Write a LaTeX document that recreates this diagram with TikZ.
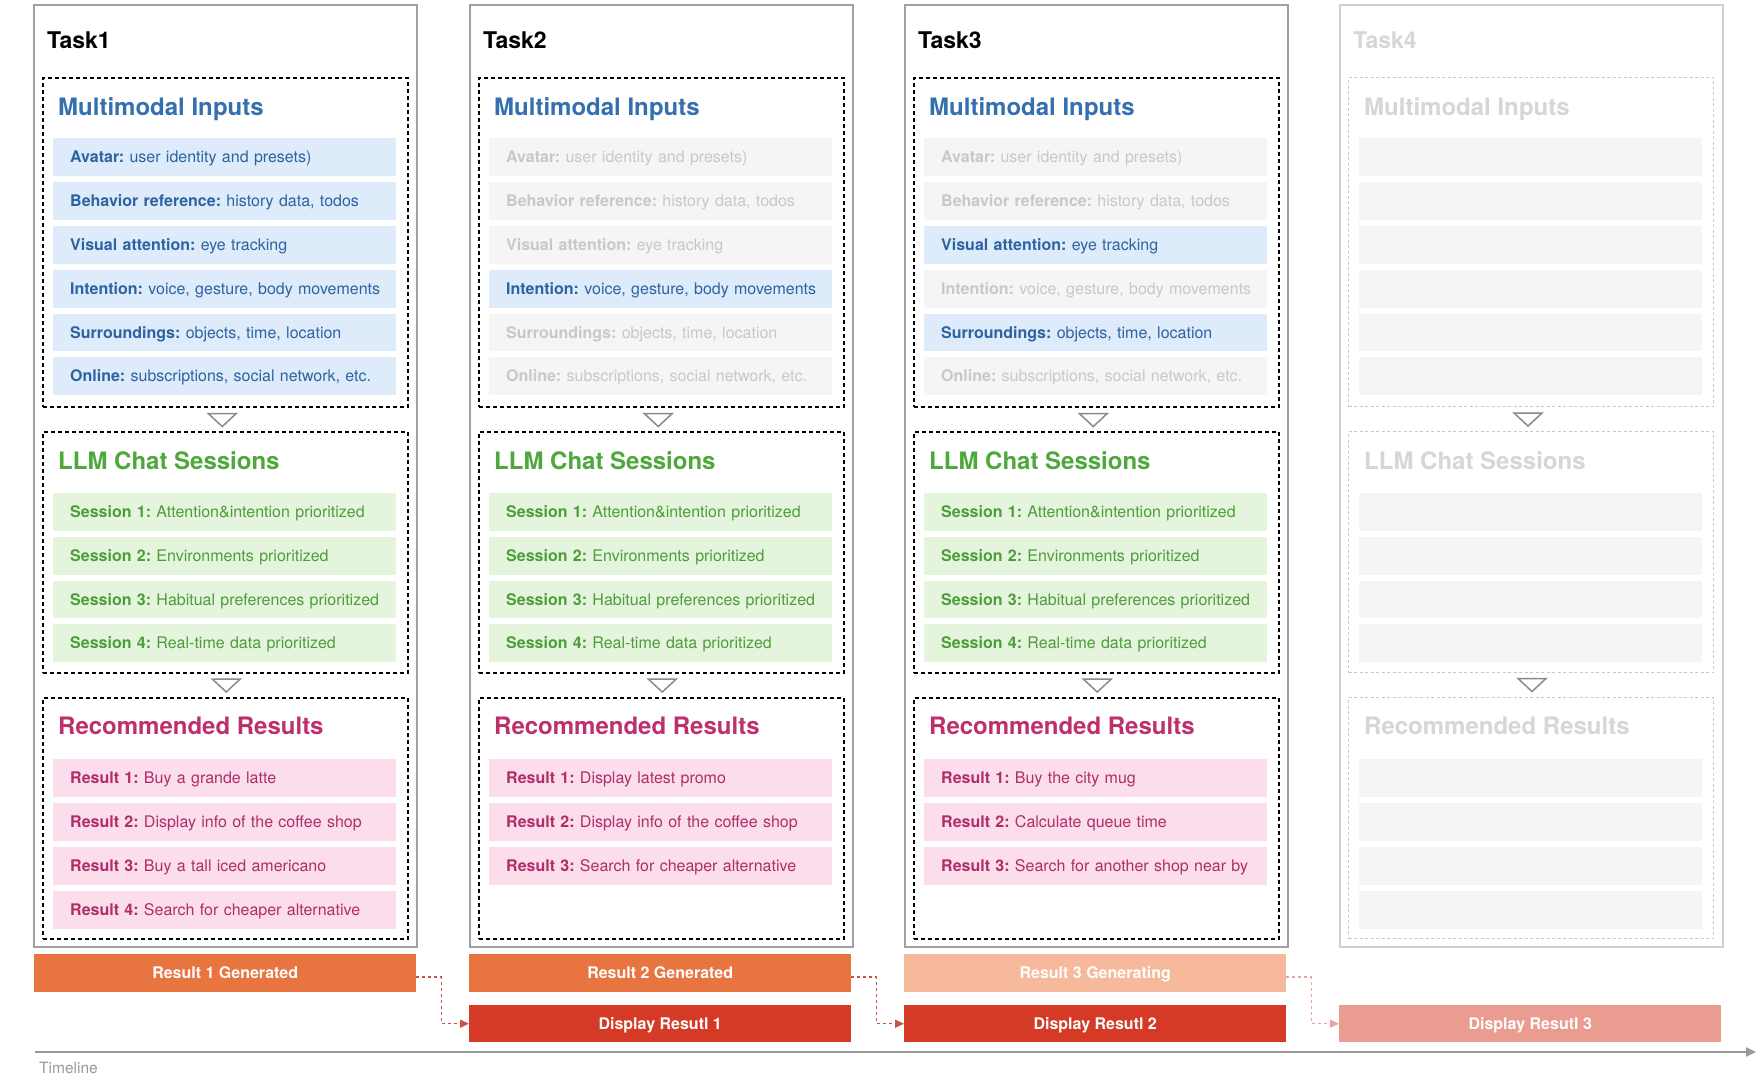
\documentclass[tikz,border=0pt]{standalone}
\usepackage{fontspec}
\setmainfont{TeX Gyre Heros}
\usetikzlibrary{arrows.meta}
\frenchspacing
\definecolor{bluetitle}{HTML}{3470B0}
\definecolor{bluetext}{HTML}{2D63A0}
\definecolor{bluefill}{HTML}{DDEBFA}
\definecolor{greentitle}{HTML}{4EA83B}
\definecolor{greentext}{HTML}{4C9E38}
\definecolor{greenfill}{HTML}{E5F4DD}
\definecolor{pinktitle}{HTML}{BE2F6E}
\definecolor{pinktext}{HTML}{B02D69}
\definecolor{pinkfill}{HTML}{FBDDEB}
\definecolor{offfill}{HTML}{F5F5F5}
\definecolor{offtext}{HTML}{C8C8C8}
\definecolor{offtitle}{HTML}{D6D6D6}
\definecolor{outergray}{HTML}{A0A0A0}
\definecolor{outerlight}{HTML}{D0D0D0}
\definecolor{dashlight}{HTML}{C8C8C8}
\definecolor{trigray}{HTML}{8A8A8A}
\definecolor{genorange}{HTML}{E8743F}
\definecolor{genlight}{HTML}{F6B99C}
\definecolor{dispred}{HTML}{D53A26}
\definecolor{displight}{HTML}{EA9C90}
\definecolor{connred}{HTML}{C9534A}
\definecolor{connlight}{HTML}{E8A49C}
\definecolor{timegray}{HTML}{9A9A9A}
\tikzset{
  outerA/.style={draw=outergray, line width=2pt},
  outerB/.style={draw=outerlight, line width=1.5pt},
  dashA/.style={draw=black, line width=1.5pt, dash pattern=on 4pt off 3pt},
  dashB/.style={draw=dashlight, line width=1pt, dash pattern=on 3pt off 2.5pt},
  tasklblA/.style={anchor=base west, inner sep=0pt, font=\fontsize{23}{27}\selectfont\bfseries, text=black},
  tasklblB/.style={anchor=base west, inner sep=0pt, font=\fontsize{23}{27}\selectfont\bfseries, text=offtitle},
  secttitle/.style={anchor=base west, inner sep=0pt, font=\fontsize{24}{28}\selectfont\bfseries},
  mitA/.style={secttitle, text=bluetitle},
  llmtA/.style={secttitle, text=greentitle},
  rrtA/.style={secttitle, text=pinktitle},
  mitB/.style={secttitle, text=offtitle},
  llmtB/.style={secttitle, text=offtitle},
  rrtB/.style={secttitle, text=offtitle},
  rowbase/.style={anchor=north west, minimum width=343pt, minimum height=37.5pt,
    inner xsep=0pt, inner ysep=0pt, text width=343pt, align=left,
    text height=11.5pt, text depth=0pt, font=\fontsize{16}{19}\selectfont},
  mirow/.style={rowbase, fill=bluefill, text=bluetext},
  llmrow/.style={rowbase, fill=greenfill, text=greentext},
  rrrow/.style={rowbase, fill=pinkfill, text=pinktext},
  offrow/.style={rowbase, fill=offfill, text=offtext},
  tri/.style={draw=trigray, line width=1.5pt, fill=white, line join=miter},
  barbase/.style={anchor=north west, minimum width=382pt, inner sep=0pt, text=white,
    font=\fontsize{16}{19}\selectfont\bfseries, text height=11.5pt, text depth=0pt},
  genbar/.style={barbase, fill=genorange, minimum height=38pt},
  genbarlight/.style={barbase, fill=genlight, minimum height=38pt},
  dispbar/.style={barbase, fill=dispred, minimum height=37pt},
  dispbarlight/.style={barbase, fill=displight, minimum height=37pt},
  conn/.style={draw=connred, line width=1.5pt, dash pattern=on 3pt off 3pt, -{Triangle[length=9pt,width=8pt]}},
  connl/.style={draw=connlight, line width=1.5pt, dash pattern=on 3pt off 3pt, -{Triangle[length=9pt,width=8pt]}},
  timeline/.style={draw=timegray, line width=2pt, -{Triangle[length=10pt,width=9pt]}},
}
\newcommand{\colframe}[3]{%
  \node[outer#3, anchor=north west, minimum width=383pt, minimum height=942pt, inner sep=0pt] (col#1) at (#2,4) {};
  \node[tasklbl#3] (task#1) at (#2+14,48) {Task#1};
  \node[dash#3, anchor=north west, minimum width=365pt, minimum height=329pt, inner sep=0pt] (mi#1) at (#2+9,77) {};
  \node[mit#3] (mit#1) at (#2+25,115) {Multimodal Inputs};
  \node[dash#3, anchor=north west, minimum width=365pt, minimum height=241pt, inner sep=0pt] (llm#1) at (#2+9,431) {};
  \node[llmt#3] (llmt#1) at (#2+25,469) {LLM Chat Sessions};
  \node[dash#3, anchor=north west, minimum width=365pt, minimum height=241pt, inner sep=0pt] (rr#1) at (#2+9,697) {};
  \node[rrt#3] (rrt#1) at (#2+25,734) {Recommended Results};
  \draw[tri, shift={(mi#1.south)}] (-17,6) -- (11,6) -- (-3,19) -- cycle;
  \draw[tri, shift={(llm#1.south)}] (-13,5.5) -- (15,5.5) -- (1,18.5) -- cycle;
}
\newcommand{\rw}[6]{\node[#1] (#2) at (#3,#4) {\hspace*{17pt}\textbf{#5} #6};}
\newcommand{\er}[4]{\node[#1] (#2) at (#3,#4) {};}
\begin{document}
\begin{tikzpicture}[x=1pt,y=-1pt]
\useasboundingbox[fill=white] (0,0) rectangle (1763,1080);

% ---------- Task 1 ----------
\colframe{1}{33}{A}
\rw{mirow}{a1}{53}{138}{Avatar:}{user identity and presets)}
\rw{mirow}{a2}{53}{182}{Behavior reference:}{history data, todos}
\rw{mirow}{a3}{53}{226}{Visual attention:}{eye tracking}
\rw{mirow}{a4}{53}{270}{Intention:}{voice, gesture, body movements}
\rw{mirow}{a5}{53}{313.5}{Surroundings:}{objects, time, location}
\rw{mirow}{a6}{53}{357}{Online:}{subscriptions, social network, etc.}
\rw{llmrow}{as1}{53}{493}{Session 1:}{Attention\&intention prioritized}
\rw{llmrow}{as2}{53}{537}{Session 2:}{Environments prioritized}
\rw{llmrow}{as3}{53}{580.5}{Session 3:}{Habitual preferences prioritized}
\rw{llmrow}{as4}{53}{624}{Session 4:}{Real-time data prioritized}
\rw{rrrow}{ar1}{53}{759}{Result 1:}{Buy a grande latte}
\rw{rrrow}{ar2}{53}{803}{Result 2:}{Display info of the coffee shop}
\rw{rrrow}{ar3}{53}{847}{Result 3:}{Buy a tall iced americano}
\rw{rrrow}{ar4}{53}{891}{Result 4:}{Search for cheaper alternative}

% ---------- Task 2 ----------
\colframe{2}{469}{A}
\rw{offrow}{b1}{489}{138}{Avatar:}{user identity and presets)}
\rw{offrow}{b2}{489}{182}{Behavior reference:}{history data, todos}
\rw{offrow}{b3}{489}{226}{Visual attention:}{eye tracking}
\rw{mirow}{b4}{489}{270}{Intention:}{voice, gesture, body movements}
\rw{offrow}{b5}{489}{313.5}{Surroundings:}{objects, time, location}
\rw{offrow}{b6}{489}{357}{Online:}{subscriptions, social network, etc.}
\rw{llmrow}{bs1}{489}{493}{Session 1:}{Attention\&intention prioritized}
\rw{llmrow}{bs2}{489}{537}{Session 2:}{Environments prioritized}
\rw{llmrow}{bs3}{489}{580.5}{Session 3:}{Habitual preferences prioritized}
\rw{llmrow}{bs4}{489}{624}{Session 4:}{Real-time data prioritized}
\rw{rrrow}{br1}{489}{759}{Result 1:}{Display latest promo}
\rw{rrrow}{br2}{489}{803}{Result 2:}{Display info of the coffee shop}
\rw{rrrow}{br3}{489}{847}{Result 3:}{Search for cheaper alternative}

% ---------- Task 3 ----------
\colframe{3}{904}{A}
\rw{offrow}{c1}{924}{138}{Avatar:}{user identity and presets)}
\rw{offrow}{c2}{924}{182}{Behavior reference:}{history data, todos}
\rw{mirow}{c3}{924}{226}{Visual attention:}{eye tracking}
\rw{offrow}{c4}{924}{270}{Intention:}{voice, gesture, body movements}
\rw{mirow}{c5}{924}{313.5}{Surroundings:}{objects, time, location}
\rw{offrow}{c6}{924}{357}{Online:}{subscriptions, social network, etc.}
\rw{llmrow}{cs1}{924}{493}{Session 1:}{Attention\&intention prioritized}
\rw{llmrow}{cs2}{924}{537}{Session 2:}{Environments prioritized}
\rw{llmrow}{cs3}{924}{580.5}{Session 3:}{Habitual preferences prioritized}
\rw{llmrow}{cs4}{924}{624}{Session 4:}{Real-time data prioritized}
\rw{rrrow}{cr1}{924}{759}{Result 1:}{Buy the city mug}
\rw{rrrow}{cr2}{924}{803}{Result 2:}{Calculate queue time}
\rw{rrrow}{cr3}{924}{847}{Result 3:}{Search for another shop near by}

% ---------- Task 4 ----------
\colframe{4}{1339}{B}
\er{offrow}{d1}{1359}{138}
\er{offrow}{d2}{1359}{182}
\er{offrow}{d3}{1359}{226}
\er{offrow}{d4}{1359}{270}
\er{offrow}{d5}{1359}{313.5}
\er{offrow}{d6}{1359}{357}
\er{offrow}{ds1}{1359}{493}
\er{offrow}{ds2}{1359}{537}
\er{offrow}{ds3}{1359}{580.5}
\er{offrow}{ds4}{1359}{624}
\er{offrow}{dr1}{1359}{759}
\er{offrow}{dr2}{1359}{803}
\er{offrow}{dr3}{1359}{847}
\er{offrow}{dr4}{1359}{891}

% ---------- bars ----------
\node[genbar] (g1) at (34,954) {Result 1 Generated};
\node[genbar] (g2) at (469,954) {Result 2 Generated};
\node[genbarlight] (g3) at (904,954) {Result 3 Generating};
\node[dispbar] (p1) at (469,1005) {Display Resutl 1};
\node[dispbar] (p2) at (904,1005) {Display Resutl 2};
\node[dispbarlight] (p3) at (1339,1005) {Display Resutl 3};

\draw[conn] ([yshift=-4pt]g1.east) -- ++(25,0) |- (p1.west);
\draw[conn] ([yshift=-4pt]g2.east) -- ++(25,0) |- (p2.west);
\draw[connl] ([yshift=-4pt]g3.east) -- ++(25,0) |- (p3.west);

% ---------- timeline ----------
\coordinate (tl0) at (35,1052);
\coordinate (tl1) at (1756,1052);
\draw[timeline] (tl0) -- (tl1);
\node[anchor=base west, inner sep=0pt, text=timegray, font=\fontsize{15.5}{18}\selectfont] (tltxt) at (39,1073) {Timeline};
\end{tikzpicture}
\end{document}
